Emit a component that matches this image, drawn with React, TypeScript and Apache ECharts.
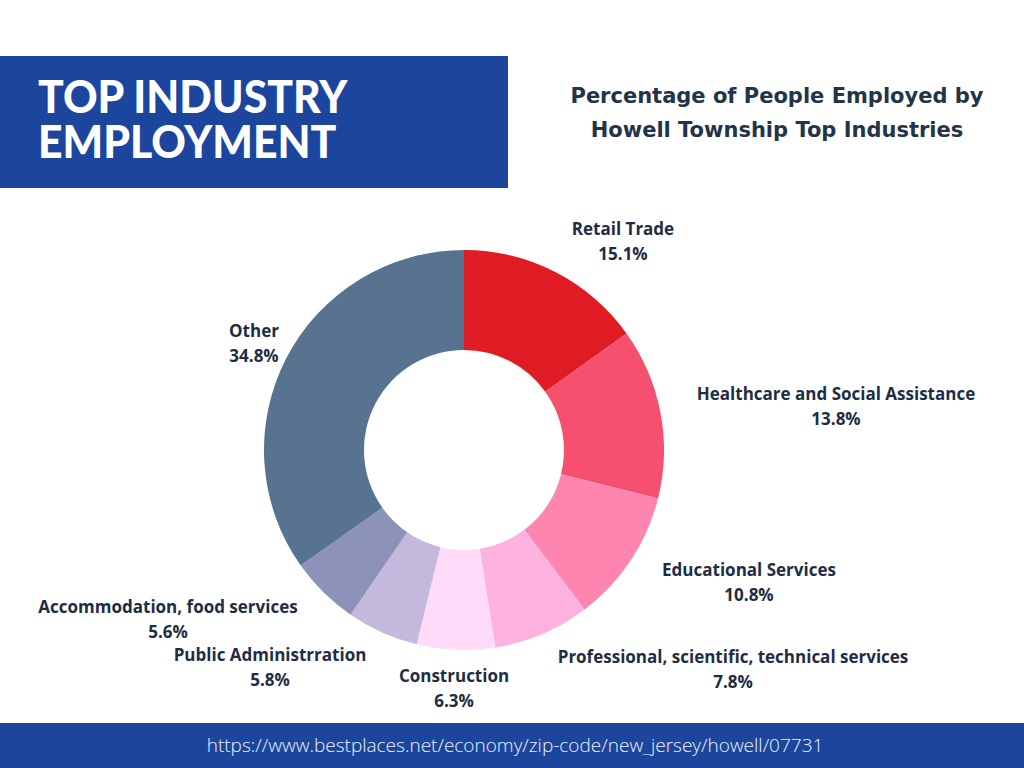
import React, { useEffect, useRef } from "react";
import * as echarts from "echarts";

const categories = [
  "Retail Trade",
  "Healthcare and Social Assistance",
  "Educational Services",
  "Professional, scientific, technical services",
  "Construction",
  "Public Administrration",
  "Accommodation, food services",
  "Other",
];
const values = [15.1, 13.8, 10.8, 7.8, 6.3, 5.8, 5.6, 34.8];
const colors = ["#DF1C24", "#F5506F", "#FF85B1", "#FFB1DF", "#FFDAF9", "#C5B8DD", "#8D93B8", "#57738F"];
const labelPositions: [number, number][] = [
  [623, 241],
  [836, 406],
  [749, 582],
  [733, 669],
  [454, 688],
  [270, 667],
  [168, 619],
  [254, 343],
];

export default function App() {
  const ref = useRef<HTMLDivElement>(null);
  useEffect(() => {
    if (!ref.current) return;
    const chart = echarts.init(ref.current, undefined, { renderer: "svg" });
    chart.setOption({
      animation: false,
      backgroundColor: "#FFFFFF",
      graphic: [
        { type: "rect", shape: { x: 0, y: 56, width: 508, height: 132 }, style: { fill: "#1C469E" } },
        {
          type: "text",
          x: 38,
          y: 73,
          scaleX: 0.95,
          style: {
            text: "TOP INDUSTRY\nEMPLOYMENT",
            fill: "#FFFFFF",
            font: "900 45px Lato",
            lineHeight: 45,
          },
        },
        {
          type: "text",
          x: 777,
          y: 113,
          style: {
            text: "Percentage of People Employed by\nHowell Township Top Industries",
            fill: "#22344A",
            font: "bold 21px 'DejaVu Sans'",
            lineHeight: 34,
            align: "center",
            verticalAlign: "middle",
          },
        },
        { type: "rect", shape: { x: 0, y: 723, width: 1024, height: 45 }, style: { fill: "#1C469E" } },
        {
          type: "text",
          x: 515,
          y: 745,
          style: {
            text: "https://www.bestplaces.net/economy/zip-code/new_jersey/howell/07731",
            fill: "#EEF1F8",
            font: "300 19px 'Open Sans'",
            align: "center",
            verticalAlign: "middle",
          },
        },
      ],
      series: [
        {
          type: "pie",
          center: [464, 450],
          radius: [100, 200],
          startAngle: 90,
          clockwise: true,
          color: colors,
          label: {
            show: true,
            formatter: "{b}\n{c}%",
            color: "#1E2D45",
            fontFamily: "'Open Sans'",
            fontWeight: "bold",
            fontSize: 17,
            lineHeight: 25,
            align: "center",
            overflow: "none",
            width: 500,
          },
          labelLine: { show: false },
          labelLayout: (params: any) => {
            const p = labelPositions[params.dataIndex];
            return { x: p[0], y: p[1], align: "center", verticalAlign: "middle" };
          },
          emphasis: { disabled: true },
          data: categories.map((name, i) => ({ name, value: values[i] })),
        },
      ],
    });
    return () => chart.dispose();
  }, []);
  return (
    <div
      ref={ref}
      style={{ position: "absolute", left: 0, top: 0, width: 1024, height: 768 }}
    />
  );
}
